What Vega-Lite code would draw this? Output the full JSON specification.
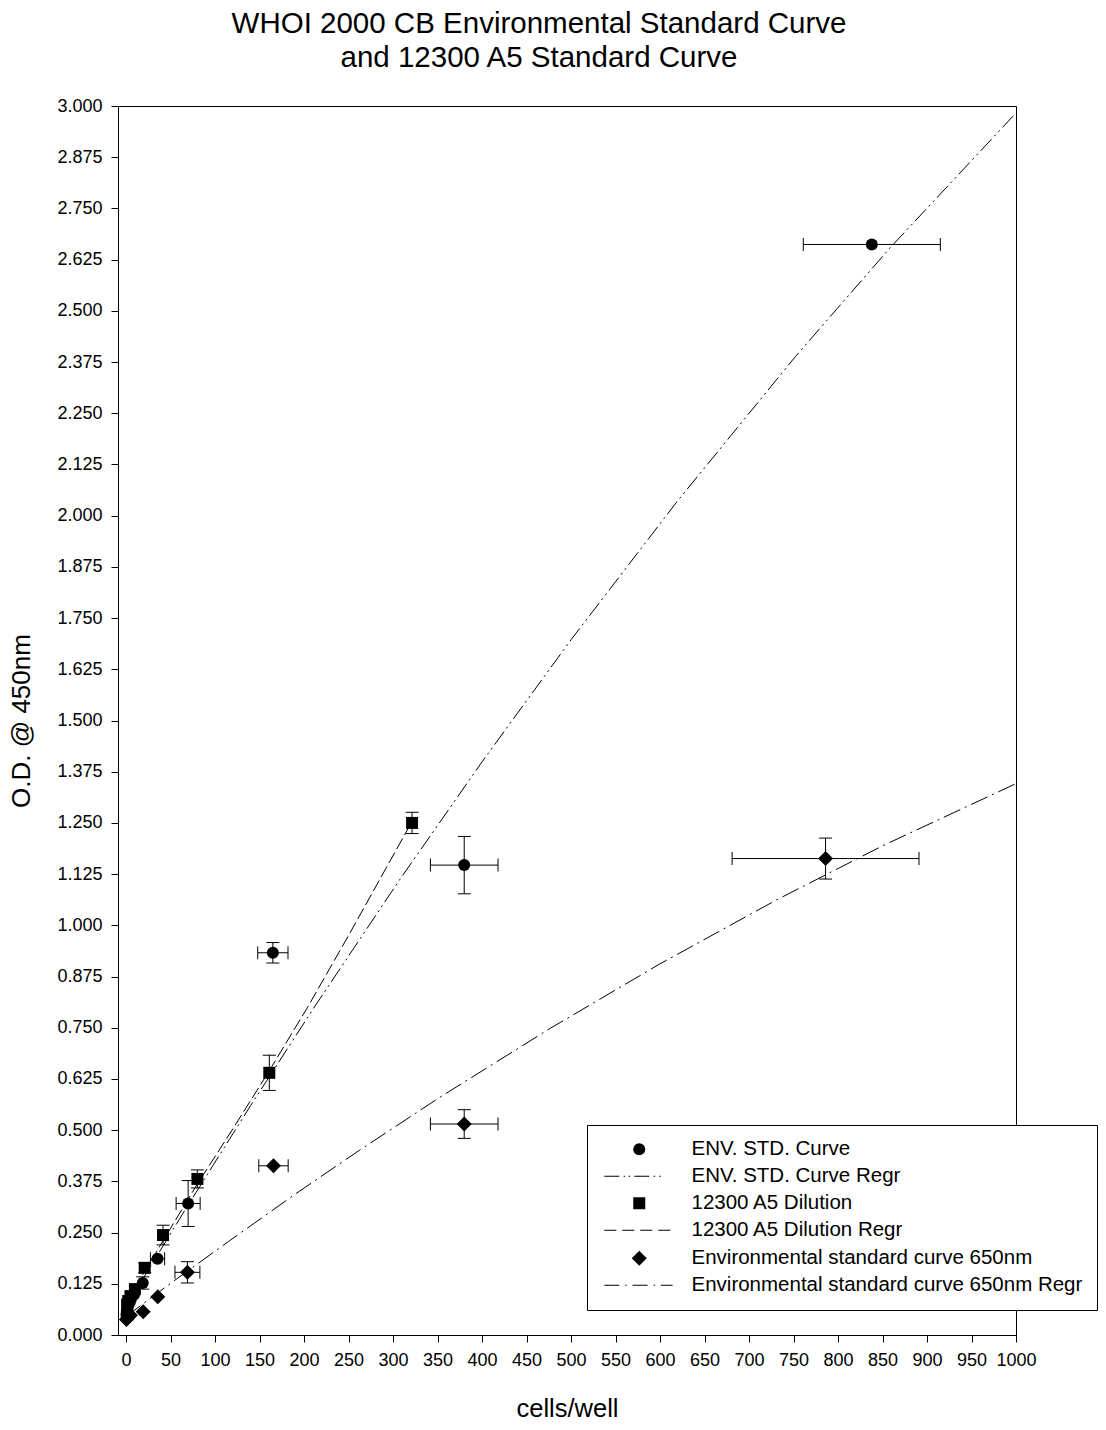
{
  "$schema": "https://vega.github.io/schema/vega-lite/v6.json",
  "width": 898,
  "height": 1229,
  "autosize": {"type": "none"},
  "padding": {"left": 118, "top": 106, "right": 90, "bottom": 95},
  "background": "white",
  "title": {
    "text": ["WHOI 2000 CB  Environmental Standard Curve", "and 12300 A5 Standard Curve"],
    "font": "Liberation Sans",
    "fontSize": 29.5,
    "fontWeight": "normal",
    "lineHeight": 34,
    "offset": 24,
    "dx": -28,
    "anchor": "middle",
    "color": "black"
  },
  "datasets": {
    "points": [
      {"series": "ENV. STD. Curve", "x": 838, "y": 2.662, "xerr": 77, "yerr": 0},
      {"series": "ENV. STD. Curve", "x": 380, "y": 1.147, "xerr": 38, "yerr": 0.07},
      {"series": "ENV. STD. Curve", "x": 165, "y": 0.933, "xerr": 17, "yerr": 0.025},
      {"series": "ENV. STD. Curve", "x": 69.8, "y": 0.321, "xerr": 13.5, "yerr": 0.056},
      {"series": "ENV. STD. Curve", "x": 35.4, "y": 0.186, "xerr": 8, "yerr": 0},
      {"series": "ENV. STD. Curve", "x": 18.8, "y": 0.127, "xerr": 0, "yerr": 0.015},
      {"series": "ENV. STD. Curve", "x": 9, "y": 0.098, "xerr": 0, "yerr": 0},
      {"series": "ENV. STD. Curve", "x": 4.5, "y": 0.082, "xerr": 0, "yerr": 0},
      {"series": "ENV. STD. Curve", "x": 2, "y": 0.068, "xerr": 0, "yerr": 0},
      {"series": "ENV. STD. Curve", "x": 1, "y": 0.058, "xerr": 0, "yerr": 0},
      {"series": "ENV. STD. Curve", "x": 0.5, "y": 0.05, "xerr": 0, "yerr": 0},
      {"series": "12300 A5 Dilution", "x": 321.4, "y": 1.25, "xerr": 0, "yerr": 0.026},
      {"series": "12300 A5 Dilution", "x": 161, "y": 0.64, "xerr": 0, "yerr": 0.043},
      {"series": "12300 A5 Dilution", "x": 80.2, "y": 0.381, "xerr": 0, "yerr": 0.022},
      {"series": "12300 A5 Dilution", "x": 41.6, "y": 0.244, "xerr": 0, "yerr": 0.024},
      {"series": "12300 A5 Dilution", "x": 21, "y": 0.164, "xerr": 0, "yerr": 0.012},
      {"series": "12300 A5 Dilution", "x": 10, "y": 0.112, "xerr": 0, "yerr": 0},
      {"series": "12300 A5 Dilution", "x": 5, "y": 0.095, "xerr": 0, "yerr": 0},
      {"series": "12300 A5 Dilution", "x": 2.5, "y": 0.083, "xerr": 0, "yerr": 0},
      {"series": "12300 A5 Dilution", "x": 1.25, "y": 0.074, "xerr": 0, "yerr": 0},
      {"series": "Environmental standard curve 650nm", "x": 786, "y": 1.163, "xerr": 105, "yerr": 0.05},
      {"series": "Environmental standard curve 650nm", "x": 380, "y": 0.515, "xerr": 38, "yerr": 0.035},
      {"series": "Environmental standard curve 650nm", "x": 165.7, "y": 0.413, "xerr": 16.5, "yerr": 0},
      {"series": "Environmental standard curve 650nm", "x": 69, "y": 0.153, "xerr": 14, "yerr": 0.026},
      {"series": "Environmental standard curve 650nm", "x": 35.7, "y": 0.0935, "xerr": 0, "yerr": 0},
      {"series": "Environmental standard curve 650nm", "x": 19.3, "y": 0.057, "xerr": 0, "yerr": 0},
      {"series": "Environmental standard curve 650nm", "x": 5, "y": 0.048, "xerr": 0, "yerr": 0},
      {"series": "Environmental standard curve 650nm", "x": 2, "y": 0.042, "xerr": 0, "yerr": 0},
      {"series": "Environmental standard curve 650nm", "x": 0.5, "y": 0.038, "xerr": 0, "yerr": 0}
    ],
    "lines": [
      {"series": "ENV. STD. Curve Regr", "x": 0, "y": 0.07},
      {"series": "ENV. STD. Curve Regr", "x": 70, "y": 0.318},
      {"series": "ENV. STD. Curve Regr", "x": 140, "y": 0.56},
      {"series": "ENV. STD. Curve Regr", "x": 213, "y": 0.805},
      {"series": "ENV. STD. Curve Regr", "x": 308, "y": 1.113},
      {"series": "ENV. STD. Curve Regr", "x": 400, "y": 1.399},
      {"series": "ENV. STD. Curve Regr", "x": 500, "y": 1.697},
      {"series": "ENV. STD. Curve Regr", "x": 619, "y": 2.034},
      {"series": "ENV. STD. Curve Regr", "x": 752, "y": 2.388},
      {"series": "ENV. STD. Curve Regr", "x": 859, "y": 2.655},
      {"series": "ENV. STD. Curve Regr", "x": 1000, "y": 2.983},
      {"series": "12300 A5 Dilution Regr", "x": 0, "y": 0.08},
      {"series": "12300 A5 Dilution Regr", "x": 21, "y": 0.155},
      {"series": "12300 A5 Dilution Regr", "x": 41.6, "y": 0.23},
      {"series": "12300 A5 Dilution Regr", "x": 80, "y": 0.368},
      {"series": "12300 A5 Dilution Regr", "x": 120, "y": 0.503},
      {"series": "12300 A5 Dilution Regr", "x": 161, "y": 0.645},
      {"series": "12300 A5 Dilution Regr", "x": 204, "y": 0.8},
      {"series": "12300 A5 Dilution Regr", "x": 250, "y": 0.975},
      {"series": "12300 A5 Dilution Regr", "x": 321, "y": 1.252},
      {"series": "Environmental standard curve 650nm Regr", "x": 0, "y": 0.045},
      {"series": "Environmental standard curve 650nm Regr", "x": 50, "y": 0.126},
      {"series": "Environmental standard curve 650nm Regr", "x": 115, "y": 0.228},
      {"series": "Environmental standard curve 650nm Regr", "x": 193.5, "y": 0.349},
      {"series": "Environmental standard curve 650nm Regr", "x": 261, "y": 0.449},
      {"series": "Environmental standard curve 650nm Regr", "x": 351, "y": 0.578},
      {"series": "Environmental standard curve 650nm Regr", "x": 477, "y": 0.749},
      {"series": "Environmental standard curve 650nm Regr", "x": 600, "y": 0.906},
      {"series": "Environmental standard curve 650nm Regr", "x": 730, "y": 1.061},
      {"series": "Environmental standard curve 650nm Regr", "x": 850, "y": 1.194},
      {"series": "Environmental standard curve 650nm Regr", "x": 1000, "y": 1.346}
    ]
  },
  "encoding": {
    "x": {
      "field": "x",
      "type": "quantitative",
      "scale": {"domain": [-9, 1000], "nice": false, "zero": false},
      "axis": {
        "title": "cells/well",
        "values": [0, 50, 100, 150, 200, 250, 300, 350, 400, 450, 500, 550, 600, 650, 700, 750, 800, 850, 900, 950, 1000],
        "format": "d",
        "grid": false,
        "labelFlush": false,
        "labelOverlap": false,
        "tickSize": 7,
        "labelPadding": 9,
        "labelFontSize": 18,
        "titleFontSize": 25.5,
        "titleFontWeight": "normal",
        "titlePadding": 27
      }
    },
    "y": {
      "field": "y",
      "type": "quantitative",
      "scale": {"domain": [0, 3], "nice": false},
      "axis": {
        "title": "O.D. @ 450nm",
        "values": [0, 0.125, 0.25, 0.375, 0.5, 0.625, 0.75, 0.875, 1, 1.125, 1.25, 1.375, 1.5, 1.625, 1.75, 1.875, 2, 2.125, 2.25, 2.375, 2.5, 2.625, 2.75, 2.875, 3],
        "format": ".3f",
        "grid": false,
        "labelFlush": false,
        "labelOverlap": false,
        "tickSize": 7,
        "labelPadding": 9,
        "labelFontSize": 18,
        "titleFontSize": 26,
        "titleFontWeight": "normal",
        "titlePadding": 22
      }
    }
  },
  "layer": [
    {
      "data": {"name": "lines"},
      "mark": {"type": "line", "color": "black", "strokeWidth": 1, "clip": true},
      "encoding": {
        "strokeDash": {
          "field": "series",
          "type": "nominal",
          "scale": {
            "domain": ["ENV. STD. Curve Regr", "12300 A5 Dilution Regr", "Environmental standard curve 650nm Regr"],
            "range": [[16, 4, 2, 4, 2, 4], [12, 4], [18, 5, 2, 5]]
          },
          "legend": null
        }
      }
    },
    {
      "data": {"name": "points"},
      "transform": [{"filter": "datum.xerr > 0"}],
      "mark": {"type": "errorbar", "ticks": {"size": 13, "color": "black"}, "color": "black", "opacity": 1},
      "encoding": {
        "xError": {"field": "xerr"}
      }
    },
    {
      "data": {"name": "points"},
      "transform": [{"filter": "datum.yerr > 0"}],
      "mark": {"type": "errorbar", "ticks": {"size": 13, "color": "black"}, "color": "black", "opacity": 1},
      "encoding": {
        "yError": {"field": "yerr"}
      }
    },
    {
      "data": {"name": "points"},
      "mark": {"type": "point", "filled": true, "color": "black", "opacity": 1, "size": 144},
      "encoding": {
        "shape": {
          "field": "series",
          "type": "nominal",
          "scale": {
            "domain": ["ENV. STD. Curve", "ENV. STD. Curve Regr", "12300 A5 Dilution", "12300 A5 Dilution Regr", "Environmental standard curve 650nm", "Environmental standard curve 650nm Regr"],
            "range": [
              "circle",
              "M-5.83,-0.09H-3.33V0.09H-5.83ZM-2.6,-0.09H-2.35V0.09H-2.6ZM-1.77,-0.09H-1.52V0.09H-1.77ZM-0.83,-0.09H1.67V0.09H-0.83ZM2.4,-0.09H2.65V0.09H2.4ZM3.34,-0.09H3.59V0.09H3.34Z",
              "square",
              "M-5.83,-0.09H-3.83V0.09H-5.83ZM-2.83,-0.09H-0.83V0.09H-2.83ZM0.17,-0.09H2.17V0.09H0.17ZM3.17,-0.09H5.17V0.09H3.17Z",
              "M0,-1.25L1.25,0L0,1.25L-1.25,0Z",
              "M-5.83,-0.09H-3.33V0.09H-5.83ZM-2.35,-0.09H-2.1V0.09H-2.35ZM-1.11,-0.09H1.39V0.09H-1.11ZM2.4,-0.09H2.65V0.09H2.4ZM3.61,-0.09H5.56V0.09H3.61Z"
            ]
          },
          "legend": {
            "title": null,
            "orient": "none",
            "legendX": 469,
            "legendY": 1019,
            "padding": 14,
            "strokeColor": "black",
            "fillColor": "white",
            "symbolSize": 144,
            "symbolOffset": 28,
            "labelOffset": 42,
            "rowPadding": 6,
            "labelFont": "Liberation Sans",
            "labelFontSize": 20.5,
            "labelColor": "black",
            "labelLimit": 600,
            "encode": {
              "symbols": {
                "update": {
                  "fill": {"value": "black"},
                  "opacity": {"value": 1}
                }
              }
            }
          }
        }
      }
    }
  ],
  "config": {
    "view": {"stroke": "black", "strokeWidth": 1},
    "axis": {
      "domainColor": "black",
      "tickColor": "black",
      "labelColor": "black",
      "titleColor": "black",
      "labelFont": "Liberation Sans",
      "titleFont": "Liberation Sans"
    }
  }
}
